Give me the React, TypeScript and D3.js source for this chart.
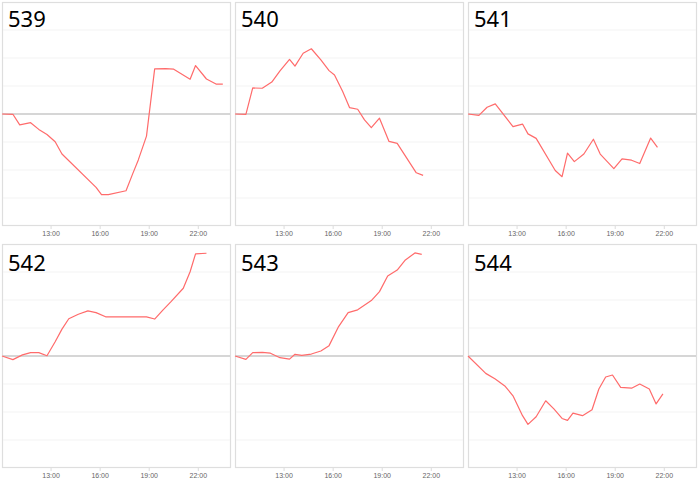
import * as d3 from 'd3';
import React from 'react';

// [time, change] pairs
const s539: [string, number][] = [
	['10:00', 0], ['10:40', -0.01], ['11:05', -0.39], ['11:45', -0.31], ['12:15', -0.55], ['12:45', -0.73],
	['13:15', -0.99], ['13:40', -1.43], ['15:45', -2.62], ['16:05', -2.88], ['16:30', -2.88], ['17:35', -2.74],
	['18:00', -2.12], ['18:20', -1.64], ['18:50', -0.79], ['19:20', 1.61], ['20:00', 1.62], ['20:30', 1.6],
	['21:30', 1.24], ['21:50', 1.73], ['22:30', 1.25], ['23:05', 1.07], ['23:30', 1.07],
];
const s540: [string, number][] = [
	['10:00', 0], ['10:40', -0.01], ['11:05', 0.93], ['11:40', 0.92], ['12:15', 1.14], ['12:45', 1.54],
	['13:20', 1.95], ['13:40', 1.71], ['14:10', 2.17], ['14:40', 2.33], ['15:15', 1.93], ['15:45', 1.55],
	['16:05', 1.39], ['16:35', 0.8], ['17:00', 0.23], ['17:30', 0.17], ['17:55', -0.21], ['18:20', -0.49],
	['18:50', -0.15], ['19:25', -0.98], ['19:55', -1.05], ['21:05', -2.1], ['21:30', -2.19],
];
const s541: [string, number][] = [
	['10:00', 0], ['10:40', -0.05], ['11:10', 0.24], ['11:40', 0.36], ['12:45', -0.45], ['13:20', -0.36],
	['13:40', -0.71], ['14:10', -0.87], ['15:20', -2.02], ['15:45', -2.24], ['16:05', -1.4], ['16:30', -1.7],
	['17:05', -1.43], ['17:40', -0.9], ['18:05', -1.43], ['18:55', -1.95], ['19:25', -1.6], ['20:00', -1.65],
	['20:30', -1.77], ['21:10', -0.86], ['21:35', -1.19],
];
const s542: [string, number][] = [
	['10:00', 0], ['10:40', -0.13], ['11:15', 0.04], ['11:45', 0.12], ['12:15', 0.12], ['12:45', 0.01],
	['13:15', 0.51], ['13:40', 0.96], ['14:05', 1.33], ['14:40', 1.49], ['15:15', 1.61], ['15:45', 1.55],
	['16:20', 1.4], ['18:50', 1.4], ['19:20', 1.32], ['19:50', 1.64], ['20:20', 1.94], ['21:05', 2.42],
	['21:30', 3.01], ['21:50', 3.65], ['22:30', 3.67],
];
const s543: [string, number][] = [
	['10:00', 0], ['10:40', -0.12], ['11:05', 0.12], ['11:40', 0.13], ['12:10', 0.1], ['12:45', -0.06],
	['13:20', -0.11], ['13:40', 0.06], ['14:05', 0.02], ['14:40', 0.07], ['15:15', 0.18], ['15:45', 0.37],
	['16:20', 1.05], ['16:55', 1.55], ['17:30', 1.65], ['18:20', 1.98], ['18:50', 2.3], ['19:20', 2.86],
	['19:55', 3.07], ['20:25', 3.43], ['21:00', 3.68], ['21:25', 3.63],
];
const s544: [string, number][] = [
	['10:00', 0], ['11:05', -0.62], ['11:40', -0.82], ['12:15', -1.07], ['12:45', -1.42], ['13:20', -2.13],
	['13:40', -2.44], ['14:10', -2.17], ['14:45', -1.6], ['15:15', -1.89], ['15:45', -2.23], ['16:05', -2.3],
	['16:25', -2.04], ['17:00', -2.13], ['17:35', -1.92], ['18:00', -1.18], ['18:25', -0.75], ['18:50', -0.68],
	['19:20', -1.12], ['20:00', -1.15], ['20:30', -1.0], ['21:05', -1.18], ['21:30', -1.71], ['21:55', -1.35],
];

const panelNames = ['539', '540', '541', '542', '543', '544'];
const panelSeries = [s539, s540, s541, s542, s543, s544];
const tickHours = [13, 16, 19, 22];
const gridValues = [-3, -2, -1, 1, 2, 3];

const toHours = (t: string) => {
	const [h, m] = t.split(':').map(Number);
	return h + m / 60;
};

const W = 700;
const H = 484;
const panelW = 229;
const panelH = 224;
const colLeft = [2, 235, 468];
const rowTop = [2, 244];
const titleDy = [25, 27];

interface PanelProps {
	name: string;
	series: [string, number][];
	left: number;
	top: number;
	titleY: number;
}

const Panel = ({ name, series, left, top, titleY }: PanelProps) => {
	const x = d3.scaleLinear().domain([10, 24]).range([left, left + panelW]);
	const y = d3.scaleLinear().domain([-4, 4]).range([top + panelH, top]);
	const line = d3
		.line<[string, number]>()
		.x(d => x(toHours(d[0])))
		.y(d => y(d[1]));

	return (
		<g>
			<rect x={left + 0.5} y={top + 0.5} width={panelW - 1} height={panelH - 1} fill="#fff" stroke="#dedede" strokeWidth={1.2} />
			{gridValues.map(v => (
				<line key={v} x1={left + 1} x2={left + panelW - 1} y1={y(v)} y2={y(v)} stroke="#f3f3f3" strokeWidth={1} />
			))}
			<line x1={left + 1} x2={left + panelW - 1} y1={y(0)} y2={y(0)} stroke="#c9c9c9" strokeWidth={1.4} />
			{tickHours.map(h => (
				<g key={h}>
					<line x1={x(h)} x2={x(h)} y1={top + panelH} y2={top + panelH + 3} stroke="#dcdcdc" />
					<text x={x(h)} y={top + panelH + 10} textAnchor="middle" fontSize={7} fill="#666" fontFamily="'Liberation Sans', sans-serif">
						{`${h}:00`}
					</text>
				</g>
			))}
			<path d={line(series) || ''} fill="none" stroke="#ff6b6b" strokeWidth={1.2} strokeLinejoin="round" />
			<text x={left + 6} y={top + titleY} fontSize={22} fill="#000" fontFamily="'Noto Sans', sans-serif">
				{name}
			</text>
		</g>
	);
};

export default function App() {
	return (
		<svg width={W} height={H} style={{ position: 'absolute', left: 0, top: 0, background: '#fff' }}>
			{panelNames.map((name, i) => (
				<Panel
					key={name}
					name={name}
					series={panelSeries[i]}
					left={colLeft[i % 3]}
					top={rowTop[Math.floor(i / 3)]}
					titleY={titleDy[Math.floor(i / 3)]}
				/>
			))}
		</svg>
	);
}
